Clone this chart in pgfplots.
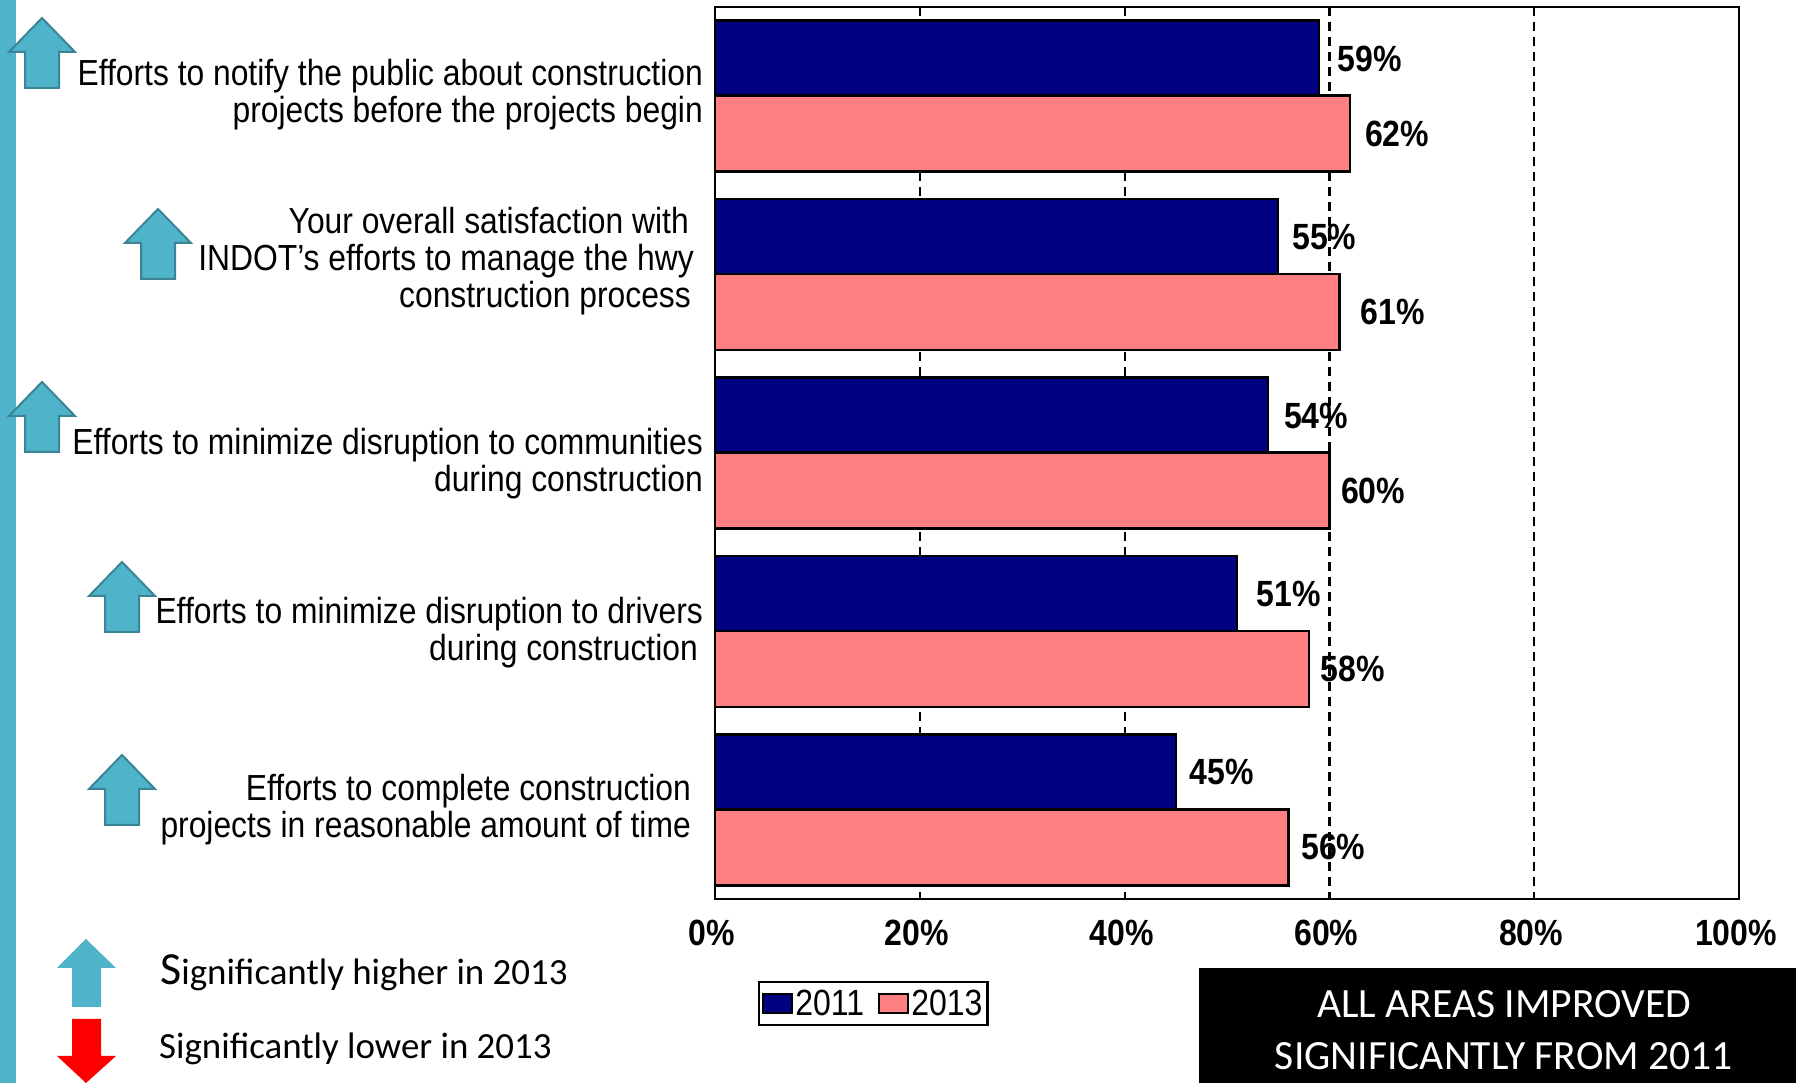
\documentclass[border=0pt]{standalone}
\usepackage{fontspec}
\setmainfont{Liberation Sans}
\newfontfamily\calibri{Carlito}
\usepackage{graphicx}
\usepackage{pgfplots}
\usepackage{pgfplotstable}
\pgfplotsset{compat=1.18}
\definecolor{teal1}{HTML}{4FB3C9}
\definecolor{teal2}{HTML}{3B8496}
\definecolor{barblue}{HTML}{000080}
\definecolor{barpink}{HTML}{FF8080}
\newcommand{\stretched}[1]{\scalebox{1}[1.14]{#1}}
% block arrow with its tip at (#1,#2), page coordinates from the top left corner
\newcommand{\uparrowmark}[2]{%
  \begin{scope}[shift={(#1pt,{1083pt-#2pt})},x=1pt,y=1pt]
    \draw[draw=teal2,fill=teal1,line width=2pt,line join=miter]
      (0,0) -- (33,-34) -- (17,-34) -- (17,-70) -- (-17,-70) -- (-17,-34) -- (-33,-34) -- cycle;
  \end{scope}}
% right-aligned category text; #1 right edge, #2 baseline of the line
\newcommand{\catline}[3]{\node[anchor=base east,inner sep=0pt,font=\fontsize{31.8}{32}\selectfont] at (#1pt,{1083pt-#2pt}) {\stretched{#3}};}
% value, row, distance of the value label from the bar end
\pgfplotstableread{
v  c dx
59 1 15.3
55 2 11
54 3 13
51 4 16.4
45 5 10.7
}\yeareleven
\pgfplotstableread{
v  c dx
62 1 12
61 2 17.6
60 3 8.4
58 4 8.4
56 5 9.6
}\yearthirteen
\begin{document}
\begin{tikzpicture}[x=1pt,y=1pt]
\useasboundingbox (0,0) rectangle (1796,1083);
\fill[teal1] (0,0) rectangle (16,1083);
\begin{axis}[
  at={(715pt,184pt)},anchor=south west,
  scale only axis,width=1024pt,height=892pt,
  xbar=0pt,bar width=76pt,
  xmin=0,xmax=100,ymin=0.5,ymax=5.5,y dir=reverse,
  xtick={0,20,40,60,80,100},ytick=\empty,
  xticklabel={\stretched{\pgfmathprintnumber{\tick}\%}},
  xticklabel style={font=\fontsize{32}{32}\selectfont\bfseries,/pgf/number format/assume math mode=true,yshift=-17pt,xshift=-3pt},
  xmajorgrids,
  major grid style={black,line width=2.2pt,dash pattern=on 9pt off 6pt},
  major tick length=0pt,
  axis line style={black,line width=2.6pt},
  visualization depends on={\thisrow{dx} \as \labeldx},
  nodes near coords={\stretched{\pgfmathprintnumber{\pgfplotspointmeta}\%}},
  nodes near coords style={anchor=west,xshift=\labeldx,inner sep=2pt,font=\fontsize{32}{32}\selectfont\bfseries,/pgf/number format/assume math mode=true,black},
  point meta=x,
  legend columns=2,
  legend image code/.code={\draw[#1,line width=2.2pt] (0pt,-9.5pt) rectangle (29pt,9.5pt);},
  legend style={at={(0.042,-0.092)},anchor=north west,draw=black,line width=2.2pt,inner xsep=3pt,inner ysep=6pt,
    font=\fontsize{32}{32}\selectfont,/tikz/every even column/.append style={column sep=12pt}},
  legend cell align=left,
  clip=false,
]
\addplot[draw=black,line width=2.4pt,fill=barblue,bar shift=37.5pt] table[x=v,y=c] {\yeareleven};
\addlegendentry{\stretched{2011}}
\addplot[draw=black,line width=2.4pt,fill=barpink,bar shift=-37.5pt] table[x=v,y=c] {\yearthirteen};
\addlegendentry{\stretched{2013}}
\end{axis}
\uparrowmark{42}{18}
\uparrowmark{158}{209}
\uparrowmark{42}{382}
\uparrowmark{122}{562}
\uparrowmark{122}{755}
\catline{703}{86}{Efforts to notify the public about construction}
\catline{703}{123}{projects before the projects begin}
\catline{689}{234}{Your overall satisfaction with}
\catline{694}{271}{INDOT's efforts to manage the hwy}
\catline{691}{308}{construction process}
\catline{703}{455}{Efforts to minimize disruption to communities}
\catline{703}{492}{during construction}
\catline{703}{624}{Efforts to minimize disruption to drivers}
\catline{698}{661}{during construction}
\catline{691}{801}{Efforts to complete construction}
\catline{691}{838}{projects in reasonable amount of time}
% key to the arrows
\fill[teal1] (86,1083-939) -- (116,1083-968) -- (101,1083-968) -- (101,1083-1007) -- (72,1083-1007) -- (72,1083-968) -- (57,1083-968) -- cycle;
\fill[red] (72,1083-1019) -- (101,1083-1019) -- (101,1083-1056) -- (116,1083-1056) -- (86,1083-1083) -- (57,1083-1056) -- (72,1083-1056) -- cycle;
\node[anchor=base west,inner sep=0pt,font=\calibri\fontsize{36.9}{37}\selectfont] at (160,1083-985) {{\fontsize{46}{46}\selectfont S}ignificantly higher in 2013};
\node[anchor=base west,inner sep=0pt,font=\calibri\fontsize{36.9}{37}\selectfont] at (159,1083-1059) {Significantly lower in 2013};
% callout
\fill[black] (1199,0) rectangle (1796,1083-968);
\node[anchor=base,white,inner sep=0pt,font=\calibri\fontsize{41.6}{42}\selectfont] at (1504,1083-1018) {ALL AREAS IMPROVED};
\node[anchor=base,white,inner sep=0pt,font=\calibri\fontsize{41.6}{42}\selectfont] at (1504,1083-1070) {SIGNIFICANTLY FROM 2011};
\end{tikzpicture}
\end{document}
